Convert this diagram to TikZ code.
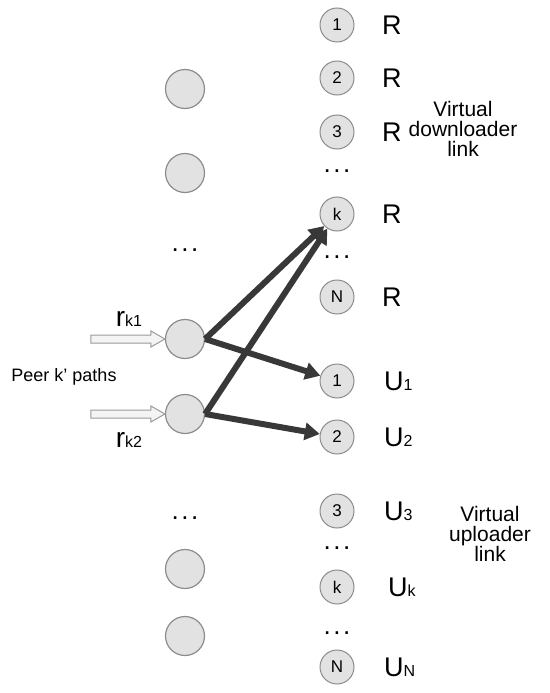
\documentclass[tikz,border=0pt]{standalone}
\usepackage{fontspec}
\setmainfont{Liberation Sans}
\usetikzlibrary{arrows.meta}
\definecolor{nodefill}{HTML}{E2E2E2}
\definecolor{nodeedge}{HTML}{8C8C8C}
\definecolor{linkcol}{HTML}{383838}
\definecolor{feededge}{HTML}{9A9A9A}
\definecolor{feedfill}{HTML}{F4F4F4}
\newcommand{\fs}[1]{\fontsize{#1}{#1}\selectfont}
\newcommand{\vdotsrow}{.\kern2.5pt.\kern2.5pt.}
\begin{document}
\begin{tikzpicture}[x=1pt,y=-1pt,
  peer/.style={circle,draw=nodeedge,fill=nodefill,line width=1.2pt,minimum size=39pt,inner sep=0pt},
  slot/.style={circle,draw=nodeedge,fill=nodefill,line width=1pt,minimum size=34pt,inner sep=0pt,font=\fs{17}},
  biglbl/.style={anchor=west,inner sep=0pt,font=\fs{27}},
  note/.style={align=center,inner sep=0pt,font=\fs{21},text depth=0pt},
  more/.style={inner sep=0pt,font=\fs{26}},
  link/.style={draw=linkcol,line width=6pt,-{Triangle[length=15pt,width=17pt]}},
  feed/.style={draw=feededge,fill=feedfill,line width=1pt,line join=miter}]
\useasboundingbox (0,0) rectangle (549,693);

% left column: peers
\node[peer] (l1) at (185,89) {};
\node[peer] (l2) at (185,173) {};
\node[more] (ldots1) at (185,250) {\vdotsrow};
\node[peer] (p1) at (185,339) {};
\node[peer] (p2) at (185,414) {};
\node[more] (ldots2) at (185,518) {\vdotsrow};
\node[peer] (l5) at (185,569) {};
\node[peer] (l6) at (185,636) {};

% incoming path rates: hollow block arrows ending at the two peers
\draw[feed] (p1.west) -- ++(-14,-8) -- ++(0,4) -- ++(-60,0) -- ++(0,8)
  -- ++(60,0) -- ++(0,4) -- cycle;
\draw[feed] (p2.west) -- ++(-14,-8) -- ++(0,4) -- ++(-60,0) -- ++(0,8)
  -- ++(60,0) -- ++(0,4) -- cycle;
\node[inner sep=0pt] (r1) at (129,319) {\fs{28}r\fs{16}k1};
\node[inner sep=0pt] (r2) at (129,440) {\fs{28}r\fs{16}k2};
\node[inner sep=0pt,font=\fs{18}] (peerlbl) at (64,377) {Peer k' paths};

% right column: virtual downloader links
\node[slot] (d1) at (337,25) {1};
\node[slot] (d2) at (337,78) {2};
\node[slot] (d3) at (337,132) {3};
\node[more] (rdots1) at (337,171) {\vdotsrow};
\node[slot] (dk) at (337,214) {k};
\node[more] (rdots2) at (337,257) {\vdotsrow};
\node[slot] (dn) at (337,297) {N};
\foreach \n in {1,2,3,k,n}
  \node[biglbl] at ([xshift=45pt]d\n.center) {R};
\node[note] (dnote) at (463,129) {Virtual\\[-1pt]downloader\\[-1pt]link};

% right column: virtual uploader links
\node[slot] (u1) at (337,381) {1};
\node[slot] (u2) at (337,437) {2};
\node[slot] (u3) at (337,511) {3};
\node[more] (rdots3) at (337,548) {\vdotsrow};
\node[slot] (uk) at (337,587) {k};
\node[more] (rdots4) at (337,633) {\vdotsrow};
\node[slot] (un) at (337,667) {N};
\node[biglbl] at ([xshift=47pt]u1.center) {U\fs{16}1};
\node[biglbl] at ([xshift=47pt]u2.center) {U\fs{16}2};
\node[biglbl] at ([xshift=47pt]u3.center) {U\fs{16}3};
\node[biglbl] at ([xshift=51pt]uk.center) {U\fs{16}k};
\node[biglbl] at ([xshift=47pt]un.center) {U\fs{16}N};
\node[note] (unote) at (490,534) {Virtual\\[-1pt]uploader\\[-1pt]link};

% peer k's paths to its downloader and uploader links
\draw[link] (p1.east) -- (dk);
\draw[link] (p2.east) -- (dk);
\draw[link] (p1.east) -- (u1);
\draw[link] (p2.east) -- (u2);
\end{tikzpicture}
\end{document}
